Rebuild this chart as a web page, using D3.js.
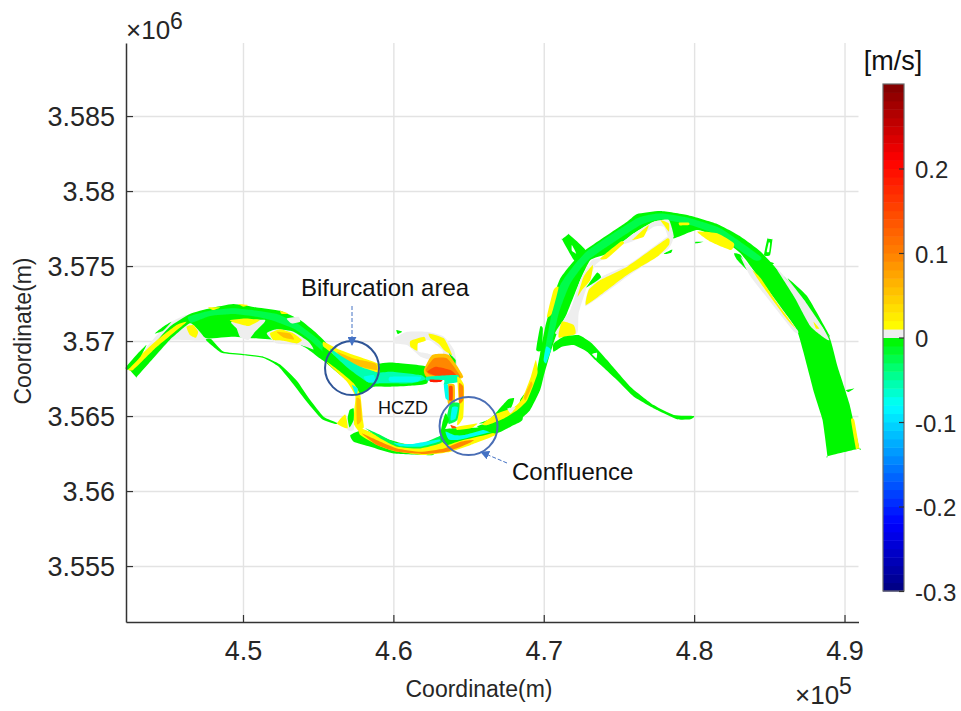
<!DOCTYPE html>
<html>
<head>
<meta charset="utf-8">
<script src="https://cdnjs.cloudflare.com/ajax/libs/d3/7.8.5/d3.min.js"></script>
<style>
  html, body { margin: 0; background: #fff; }
  text { font-family: "Liberation Sans", Arial, sans-serif; }
</style>
</head>
<body>
<div id="chart"></div>
<script>
// tick values, easting and northing in km (labels are shown with the x10^5 / x10^6 multipliers)
const xTicks = [450, 460, 470, 480, 490];
const yTicks = [3555, 3560, 3565, 3570, 3575, 3580, 3585];
const barTicks = [-0.3, -0.2, -0.1, 0, 0.1, 0.2];

// colour map of the velocity bar
const colorStops = [-0.3, -0.22, -0.08, -0.04, -0.005, 0.012, 0.1, 0.21, 0.3];
const colorValues = ["#00007f", "#0000ff", "#00ffff", "#00ff80", "#00f806", "#ffff00", "#ff8000", "#ff0000", "#7f0000"];

// velocity classes, m/s
const GREY = 0.005, GREEN = -0.005, SPRING = -0.025, AQUA = -0.06, CYAN = -0.08, YELLOW = 0.015, AMBER = 0.05, ORANGE = 0.09, HOT = 0.14, RED = 0.18, HOLE = null;

// river patches, [easting km, northing km]
const westMain = [[442.47,3568.07],[442.47,3568.07],[444.02,3569.73],[445.13,3570.96],[446.47,3571.8],[447.8,3572.18],[449.36,3572.47],[450.91,3572.24],[452.47,3572.02],[453.8,3571.4],[454.91,3570.51],[455.58,3569.84],[456.24,3569.07],[457.13,3568.4],[458.24,3567.58],[457.91,3567.07],[457.13,3567.29],[456.24,3568.07],[455.13,3568.84],[454.24,3569.51],[453.36,3569.96],[452.24,3570.07],[450.69,3570.18],[449.36,3570.29],[447.58,3570.18],[447.13,3570.62],[446.47,3571.18],[445.13,3570.07],[444.02,3568.84],[442.91,3567.58],[442.91,3567.58]];
const westGrey = [[443.47,3569.4],[444.91,3571.07],[446.24,3571.73],[446.91,3571.18],[447.62,3570.07],[446.02,3570.07],[445.13,3570.02],[444.02,3568.84]];
const westYellow = [[442.36,3568.24],[444.02,3569.84],[445.58,3571.07],[446.24,3571.29],[446.02,3571.07],[444.24,3569.58],[442.69,3568.07]];
const westThin = [[442.2,3568.24],[442.91,3569.07],[443.58,3569.73],[443.18,3568.96],[442.36,3568.11]];
const westThin2 = [[444.13,3570.51],[444.69,3570.96],[445.24,3571.29],[444.69,3570.69]];
const westBlob = [[446.24,3570.96],[446.69,3571.07],[447.02,3570.62],[446.87,3570.22],[446.47,3570.4]];
const westCentreGrey = [[449.24,3571.29],[451.47,3571.4],[450.8,3570.62],[450.36,3570.07],[449.8,3570.29],[449.58,3570.84]];
const westCentreYellow = [[449.13,3571.4],[450.13,3571.51],[451.13,3571.4],[450.36,3571],[449.58,3571.18]];
const westSpotGrey = [[451.58,3570.51],[452.24,3570.78],[453.36,3570.62],[454.36,3569.96],[454.69,3569.44],[453.8,3569.73],[452.24,3569.84]];
const westSpotYellow = [[451.8,3570.51],[452.47,3570.78],[453.36,3570.51],[453.91,3570.07],[453.58,3569.84],[452.69,3570.02],[452.02,3570.07]];
const westSpotOrange = [[452.24,3570.62],[453.13,3570.51],[453.4,3570.11],[452.69,3570.24]];
const westGreyBit = [[452.91,3571.51],[453.69,3571.62],[453.8,3571.29],[453.24,3571.18]];
const westTopA = [[452.47,3572.02],[453.02,3571.84],[452.58,3571.8]];
const westTopB = [[447.69,3572.24],[448.47,3572.24],[448.02,3572.07]];
const westTopC = [[449.69,3572.47],[450.36,3572.4],[450.02,3572.29]];
const westSpring = [[446.36,3571.62],[447.8,3572.02],[449.36,3572.18],[450.91,3572.02],[452.24,3571.8],[453.58,3571.18],[454.91,3570.18],[456.02,3569.07],[455.69,3568.96],[454.47,3570.07],[453.36,3570.84],[452.02,3571.36],[450.91,3571.62],[449.36,3571.8],[447.8,3571.67],[446.58,3571.22]];
const thinChannel = [[447.53,3570.07],[447.91,3570.11],[448.69,3569.3],[450.02,3569.14],[451.36,3568.96],[452.47,3568.44],[453.58,3567.36],[454.47,3566.07],[455.36,3564.96],[456.24,3564.56],[456.13,3564.47],[455.24,3564.8],[454.24,3565.95],[453.36,3567.1],[452.36,3568.3],[451.36,3568.87],[450.02,3569.06],[448.58,3569.22]];

const bifGreen = [[459.14,3568.51],[460.03,3568.56],[462.25,3568.29],[462.25,3567.18],[461.14,3567.02],[459.8,3566.96],[458.69,3566.96],[457.8,3566.47],[457.36,3566.96],[456.47,3567.73],[455.36,3568.73],[455.36,3569.62],[457.14,3568.4]];
const bifYellow = [[455.36,3569.96],[456.47,3569.4],[457.36,3569.07],[458.69,3568.62],[459.07,3568.4],[459.07,3567.89],[458.24,3568.07],[457.14,3568.4],[456.25,3568.96],[455.36,3569.62]];
const bifOrange = [[456.25,3569.29],[457.36,3568.84],[458.8,3568.51],[458.91,3568.07],[457.8,3568.29],[456.8,3568.73]];
const bifAqua = [[455.8,3569.51],[456.69,3568.91],[457.8,3568.29],[459.03,3567.84],[459.03,3567.18],[458.25,3567.29],[457.14,3568.07],[456.03,3569.07]];
const bifChannel = [[458.14,3567.73],[459.8,3567.96],[461.8,3567.73],[462.14,3567.44],[461.14,3567.18],[459.8,3567.18],[458.36,3567.22]];
const bifCoreA = [[458.03,3567.62],[458.69,3567.73],[458.8,3567.29],[458.25,3567.29]];
const bifCoreB = [[459.8,3567.62],[461.8,3567.62],[461.58,3567.29],[459.8,3567.29]];
const armYellow = [[455.58,3568.62],[456.47,3567.96],[457.36,3567.18],[457.8,3566.4],[457.98,3564.73],[458.03,3564.24],[457.69,3564.02],[457.36,3564.51],[457.4,3565.4],[457.47,3566.33],[456.91,3567.29],[455.8,3568.33]];
const armOrange = [[457.54,3566.18],[457.8,3566.07],[457.89,3564.73],[457.58,3564.47]];
const armGreen = [[457.09,3565.4],[457.36,3565.51],[457.36,3564.73],[457.09,3564.24],[456.96,3564.84]];
const armGrey = [[456.96,3564.96],[457.36,3564.73],[457.36,3564.07],[456.96,3564.07]];
const triYellow = [[456.25,3564.51],[456.8,3565.11],[456.96,3564.18]];
const armCyan = [[457.25,3567.07],[457.63,3566.84],[457.54,3566.33]];

const southGreen = [[457.14,3563.73],[458.03,3564.07],[459.8,3563.4],[461.8,3562.84],[462.69,3562.4],[460.03,3562.51],[458.47,3562.96],[457.36,3563.29]];
const southYellow = [[457.69,3564.24],[458.91,3563.73],[460.03,3563.22],[461.8,3563.13],[463.25,3563.51],[464.25,3563.62],[465.14,3563.73],[466.8,3564.18],[466.8,3563.73],[465.14,3563.07],[463.8,3562.62],[462.03,3562.4],[460.03,3562.67],[458.91,3563.07],[457.8,3563.73]];
const southOrange = [[457.91,3563.84],[459.14,3563.29],[460.25,3562.84],[461.8,3562.62],[463.36,3562.84],[464.47,3563.29],[465.36,3563.4],[464.91,3563.13],[463.58,3562.62],[462.03,3562.47],[460.25,3562.62],[458.91,3563.07]];
const southSpring = [[458.14,3564.18],[459.14,3563.73],[460.25,3563.18],[461.8,3563.13],[463.25,3563.73],[463.8,3563.73],[463.14,3563.18],[461.8,3562.84],[460.25,3562.96],[459.14,3563.51]];
const southCyan = [[460.03,3563.22],[461.14,3563.13],[463.03,3563.44],[463.03,3563.29],[461.8,3562.96],[460.47,3562.99]];
const confGreen = [[463.25,3564.07],[464.03,3564.18],[465.58,3564.24],[466.87,3564.47],[466.91,3563.96],[464.47,3563.36],[463.58,3563.07],[463.14,3563.4]];
const confCyan = [[463.47,3563.96],[464.03,3563.73],[464.69,3563.73],[466.8,3564.29],[466.8,3564.02],[464.47,3563.44],[463.69,3563.44]];
const confOrange = [[463.8,3564.4],[464.25,3564.24],[463.91,3564.18]];
const confYellow = [[464.25,3564.29],[465.58,3564.51],[465.14,3564.18],[464.25,3564.07]];

const lobeGrey = [[460.03,3570.18],[460.91,3570.62],[462.25,3570.62],[463.36,3570.29],[464.03,3569.4],[464.25,3568.07],[462.91,3568.62],[461.8,3568.96],[460.91,3569.73],[460.03,3569.84]];
const lobeHole = [[461.58,3569.84],[462.36,3570.07],[463.25,3569.4],[463.25,3568.84],[462.25,3569.18],[461.69,3569.29]];
const lobeYellowA = [[461.14,3570.02],[462.03,3570.29],[462.14,3570.02],[461.63,3569.84],[461.58,3569.36],[461.14,3569.62]];
const lobeYellowB = [[462.36,3570.51],[463.36,3570.18],[463.91,3569.07],[463.36,3569.4],[463.03,3569.8],[462.47,3570.18]];
const lobeGreenA = [[460.2,3570.73],[460.58,3570.62],[460.29,3570.47]];
const lobeGreenB = [[463.69,3569.18],[464.14,3568.73],[464.07,3568.33]];
const hotYellow = [[462.03,3568.07],[462.58,3569.07],[463.69,3569.07],[464.65,3567.62],[463.8,3567.4],[462.25,3567.58]];
const hotOrange = [[462.14,3568.07],[462.69,3568.84],[463.58,3568.84],[464.47,3567.62],[463.8,3567.51],[462.47,3567.73]];
const hotRed = [[462.25,3567.96],[462.8,3568.29],[463.8,3568.07],[464.25,3567.62],[463.36,3567.62],[462.69,3567.73]];
const eastYellow = [[464.25,3567.62],[464.69,3567.07],[464.65,3564.96],[464.25,3564.4],[464.36,3565.84]];
const eastOrange = [[464.36,3567.18],[464.65,3566.96],[464.65,3566.07],[464.38,3565.84]];
const midYellow = [[463.58,3567.07],[464.07,3567.07],[464.07,3565.84],[463.63,3565.84]];
const midRed = [[463.69,3566.96],[463.94,3566.96],[463.94,3566.07],[463.69,3566.07]];
const midCyan = [[463.36,3567.07],[463.63,3567.07],[463.69,3566.07],[463.47,3566.18]];
const islandGreen = [[463.8,3565.84],[464.4,3565.84],[464.25,3564.73],[463.69,3564.47],[463.58,3565.07]];
const islandCyan = [[463.91,3565.58],[464.29,3565.58],[464.14,3564.84],[463.8,3564.73]];
const linkCyan = [[462.25,3567.62],[464.25,3567.73],[464.36,3567.29],[463.8,3567.18],[463.36,3567.07],[463.36,3567.4],[462.25,3567.36]];
const linkRed = [[462.43,3567.44],[463.25,3567.4],[463.14,3567.27],[462.47,3567.27]];
const confWest = [[463.47,3565.18],[463.69,3564.73],[463.36,3563.96],[463.14,3563.84],[463.25,3564.51]];

const neMain = [[468.43,3564.84],[469.1,3565.4],[469.76,3566.73],[469.99,3567.62],[470.43,3569.18],[470.87,3570.51],[471.54,3571.84],[472.43,3574.07],[473.1,3575.4],[474.21,3575.84],[475.99,3577.18],[477.32,3577.96],[477.99,3577.73],[478.43,3577.29],[478.65,3576.84],[480.21,3577.4],[481.76,3576.84],[483.1,3575.84],[484.43,3574.07],[485.54,3572.51],[486.87,3570.62],[487.99,3566.51],[488.54,3564.73],[488.87,3562.33],[488.87,3562.33],[490.99,3562.84],[490.99,3562.84],[490.32,3565.84],[489.54,3568.29],[488.99,3570.29],[487.54,3572.73],[485.99,3574.29],[484.43,3575.96],[483.1,3576.96],[481.54,3577.8],[479.54,3578.4],[477.76,3578.67],[476.21,3578.47],[475.54,3577.96],[472.76,3576.07],[471.87,3575.18],[471.1,3574.18],[470.65,3572.96],[470.1,3570.96],[469.76,3569.18],[469.54,3568.07],[469.1,3566.96],[468.43,3566.07]];
const neSpring = [[470.03,3569.07],[470.76,3572.96],[471.32,3574.11],[472.76,3575.89],[476.21,3578.18],[477.76,3578.51],[479.54,3578.24],[481.76,3577.51],[484.43,3575.62],[483.99,3575.4],[481.54,3577.07],[479.54,3577.8],[477.76,3578.11],[476.43,3577.73],[473,3575.44],[471.76,3573.84],[470.99,3571.84],[470.39,3569.18]];
const neCyanTip = [[470.16,3569.62],[470.47,3569.4],[470.16,3568.51],[469.99,3568.73]];
const eastLower = [[465.58,3564.29],[466.8,3564.73],[467.8,3565.4],[468.58,3565.84],[468.58,3564.73],[467.8,3564.29],[466.8,3563.84]];
const eastPatch = [[465.69,3564.51],[466.47,3564.84],[467.58,3566.07],[468.03,3566.18],[467.8,3565.51],[466.69,3564.62]];
const eastStrip = [[465.91,3564.47],[466.91,3565.18],[468.03,3565.58],[468.58,3566.18],[469.14,3567.62],[469.47,3568.73],[469.58,3567.84],[468.91,3566.07],[468.25,3565.4],[467.36,3564.84],[466.25,3564.4]];
const eastStripOrange = [[468.69,3566.29],[469.14,3567.29],[469.25,3567.07],[468.8,3566.07]];
const eastGrey = [[467.58,3565.51],[468.14,3565.58],[467.8,3565.18]];
const innerGrey = [[470.76,3570.51],[471.76,3572.07],[472.43,3574.07],[473.21,3575.4],[473.99,3575.51],[473.43,3575.07],[472.87,3573.62],[472.32,3571.84],[472.21,3570.51]];
const innerBlob = [[470.99,3570.24],[471.21,3571.29],[471.99,3571.07],[472.1,3570.47]];
const innerYellow = [[472.25,3572.96],[472.65,3574.29],[473.27,3575.07],[473.1,3574.07],[472.54,3573.4]];
const outerStrip = [[470.21,3571.62],[470.65,3573.4],[470.99,3573.58],[470.54,3571.84]];
const outerGreen = [[469.76,3570.96],[469.94,3570.84],[469.87,3569.4],[469.5,3569.4]];
const barGrey = [[472.76,3572.33],[472.99,3573.51],[473.87,3574.29],[475.76,3575.18],[478.21,3576.96],[478.61,3576.84],[478.21,3576.07],[475.54,3574.29],[474.21,3573.29]];
const barYellow = [[472.81,3572.4],[472.99,3573.4],[473.76,3574.07],[475.54,3574.96],[478.21,3576.84],[478.32,3576.4],[477.54,3575.62],[475.54,3574.4],[474.21,3573.4]];
const barGreenA = [[472.83,3573.58],[473.54,3574.56],[473.81,3574.24],[473.1,3573.73]];
const barGreenB = [[477.99,3575.84],[478.54,3576.11],[478.47,3575.89],[478.1,3575.8]];
const topGrey = [[475.1,3576.4],[475.99,3577.18],[477.32,3577.96],[478.32,3578.07],[478.65,3576.96],[478.32,3576.84],[477.99,3577.62],[477.32,3577.62],[476.1,3576.73]];
const topYellowA = [[473.76,3575.51],[475.1,3576.62],[475.32,3576.51],[474.21,3575.51]];
const topYellowB = [[475.99,3576.84],[476.98,3577.73],[476.65,3576.96],[475.87,3576.73]];
const topYellowC = [[477.76,3578.07],[478.32,3577.84],[478.32,3577.29],[477.99,3577.73]];
const topSpot = [[478.99,3577.89],[479.65,3577.89],[479.65,3577.73],[479.05,3577.71]];
const neYellowA = [[480.21,3577.29],[481.54,3577.18],[482.65,3576.51],[482.43,3576.07],[481.1,3576.62]];
const neTick = [[480.1,3576.62],[480.65,3576.62],[480.1,3576.51]];
const neGreenB = [[482.65,3575.84],[483.1,3575.73],[483.54,3574.73],[482.87,3575.4]];
const neGreyLower = [[483.1,3575.62],[484.43,3574.07],[486.87,3570.73],[486.65,3570.62],[485.32,3572.29],[483.76,3574.29]];
const neYellowLower = [[483.87,3574.73],[484.43,3574.18],[485.54,3572.51],[486.76,3570.84],[486.21,3571.4],[484.43,3573.84]];
const neGreyUpper = [[485.32,3575.07],[486.21,3574.07],[487.54,3572.73],[488.99,3570.07],[487.76,3570.96],[486.65,3572.96]];
const neEdge = [[486.21,3574.18],[487.54,3572.96],[488.99,3570.4],[488.83,3570.51],[487.32,3572.73]];
const neEdgeYellow = [[487.94,3571.29],[488.32,3570.84],[488.1,3570.84]];
const neStub = [[484.87,3576.84],[484.87,3576.84],[485.21,3576.78],[485.21,3576.78],[485.05,3575.73],[484.65,3575.73]];
const neStubHole = [[484.96,3576.56],[485.05,3576.51],[484.99,3575.96],[484.83,3575.96]];
const neStub2 = [[484.54,3575.4],[485.32,3575.18],[484.87,3575.02]];
const neTipYellow = [[490.43,3564.73],[490.65,3564.73],[490.99,3562.84],[490.99,3562.84],[490.76,3562.8],[490.76,3562.8]];
const neStub3 = [[490.1,3566.73],[490.65,3566.84],[490.25,3566.6]];
const tribStub = [[471.21,3576.78],[471.21,3576.78],[471.65,3577.13],[471.65,3577.13],[472.76,3576.07],[472.1,3575.29]];
const tribHole = [[471.87,3576.4],[472.16,3575.84],[471.87,3576.02]];
const seBranch = [[470.65,3569.84],[471.32,3570.29],[472.32,3570.4],[473.21,3569.84],[474.21,3568.73],[475.76,3566.96],[477.32,3565.73],[478.65,3565.07],[479.99,3565],[479.76,3564.78],[478.87,3564.78],[477.54,3565.4],[475.99,3566.29],[474.87,3567.4],[473.43,3568.73],[472.87,3569.29],[471.98,3569.73],[471.21,3569.62],[470.65,3569.29]];
const seNotch = [[473.21,3569.13],[473.54,3569.22],[473.5,3568.84]];

// paint order, back to front: [patch, velocity]
const layers = [
  [westGrey, GREY], [westMain, GREEN], [westSpring, SPRING], [westYellow, YELLOW], [westThin, GREEN], [westThin2, GREEN], [westBlob, YELLOW],
  [westCentreGrey, GREY], [westCentreYellow, YELLOW], [westSpotGrey, GREY], [westSpotYellow, YELLOW], [westSpotOrange, AMBER], [westGreyBit, GREY],
  [westTopA, YELLOW], [westTopB, YELLOW], [westTopC, YELLOW], [thinChannel, GREEN],
  [bifGreen, GREEN], [bifYellow, YELLOW], [bifOrange, AMBER], [bifAqua, AQUA], [bifChannel, AQUA], [bifCoreA, CYAN], [bifCoreB, CYAN], [armYellow, YELLOW], [armOrange, AMBER], [armGrey, GREY], [armGreen, GREEN], [triYellow, YELLOW], [armCyan, CYAN],
  [southGreen, GREEN], [southYellow, YELLOW], [southOrange, ORANGE], [southSpring, SPRING], [southCyan, CYAN],
  [lobeGrey, GREY], [lobeHole, HOLE], [lobeYellowA, YELLOW], [lobeYellowB, YELLOW], [lobeGreenA, GREEN], [lobeGreenB, GREEN],
  [hotYellow, AMBER], [hotOrange, ORANGE], [hotRed, HOT], [linkCyan, AQUA], [linkRed, RED],
  [eastYellow, YELLOW], [eastOrange, ORANGE], [midYellow, AMBER], [midRed, HOT], [midCyan, CYAN], [islandGreen, SPRING], [islandCyan, CYAN], [confWest, GREEN],
  [confGreen, GREEN], [confCyan, CYAN], [confOrange, HOT], [confYellow, YELLOW],
  [neMain, GREEN], [neSpring, SPRING], [neCyanTip, CYAN], [eastLower, GREEN], [eastPatch, GREEN], [eastStrip, YELLOW], [eastStripOrange, AMBER], [eastGrey, GREY],
  [innerGrey, GREY], [innerBlob, YELLOW], [innerYellow, YELLOW], [outerStrip, YELLOW], [outerGreen, GREEN],
  [barGrey, GREY], [barYellow, YELLOW], [barGreenA, GREEN], [barGreenB, GREEN], [topGrey, GREY], [topYellowA, YELLOW], [topYellowB, YELLOW], [topYellowC, YELLOW], [topSpot, YELLOW],
  [neYellowA, YELLOW], [neTick, GREEN], [neGreenB, GREEN], [neGreyLower, GREY], [neYellowLower, YELLOW], [neGreyUpper, GREY], [neEdge, GREEN], [neEdgeYellow, YELLOW],
  [neStub, GREEN], [neStubHole, HOLE], [neStub2, GREEN], [neTipYellow, YELLOW], [neStub3, GREEN], [tribStub, GREEN], [tribHole, HOLE], [seBranch, GREEN], [seNotch, HOLE],
];

// annotation circles [easting km, northing km]
const bifurcationMark = [457.25, 3568.2];
const confluenceMark = [465, 3564.33];

const width = 961, height = 711;
const plot = { left: 126, right: 858.5, top: 43, bottom: 622 };
const bar = { left: 883, right: 904, top: 84, bottom: 591 };

const svg = d3.select("#chart").append("svg")
  .attr("width", width).attr("height", height)
  .attr("viewBox", [0, 0, width, height]);

const xScale = d3.scaleLinear().domain([442.22, 490.93]).range([plot.left, plot.right]);
const yScale = d3.scaleLinear().domain([3551.27, 3589.87]).range([plot.bottom, plot.top]);
const barScale = d3.scaleLinear().domain([-0.3, 0.3]).range([bar.bottom, bar.top]);
const colorMap = d3.scaleLinear().domain(colorStops).range(colorValues).clamp(true);

// the bar has one step per 0.01 m/s and the step above zero is grey
function velocityColor(v) {
  if (v === null) return "#fff";
  const low = Math.floor(v * 100) / 100;
  if (low === 0) return "#eeeeee";
  return colorMap(low + 0.005);
}

// soft edges, the river was a resampled raster
const defs = svg.append("defs");
defs.append("filter").attr("id", "soft")
  .attr("x", "-5%").attr("y", "-5%").attr("width", "110%").attr("height", "110%")
  .append("feGaussianBlur").attr("stdDeviation", 0.7);
const arrowColor = "#4472c4";
defs.append("marker").attr("id", "head")
  .attr("viewBox", "0 0 10 10").attr("refX", 9).attr("refY", 5)
  .attr("markerWidth", 9).attr("markerHeight", 9).attr("markerUnits", "userSpaceOnUse").attr("orient", "auto")
  .append("path").attr("d", "M0,0L10,5L0,10Z").attr("fill", arrowColor);

// grid
const gridColor = "#e3e3e3";
svg.append("g")
  .attr("transform", `translate(0,${plot.bottom})`)
  .call(d3.axisBottom(xScale).tickValues(xTicks).tickSize(-(plot.bottom - plot.top)).tickFormat(""))
  .call((g) => g.select(".domain").remove())
  .call((g) => g.selectAll("line").attr("stroke", gridColor).attr("stroke-width", 1.4));
svg.append("g")
  .attr("transform", `translate(${plot.left},0)`)
  .call(d3.axisLeft(yScale).tickValues(yTicks).tickSize(-(plot.right - plot.left)).tickFormat(""))
  .call((g) => g.select(".domain").remove())
  .call((g) => g.selectAll("line").attr("stroke", gridColor).attr("stroke-width", 1.4));

// river
const line = d3.line()
  .x((d) => xScale(d[0]))
  .y((d) => yScale(d[1]))
  .curve(d3.curveCardinalClosed.tension(0.5));
svg.append("g").attr("filter", "url(#soft)")
  .selectAll("path")
  .data(layers)
  .join("path")
  .attr("d", (d) => line(d[0]))
  .attr("fill", (d) => velocityColor(d[1]));

// axes
const axisColor = "#333";
const tickFont = 27;
svg.append("g")
  .attr("transform", `translate(0,${plot.bottom})`)
  .call(d3.axisBottom(xScale).tickValues(xTicks).tickSize(-7).tickPadding(19).tickSizeOuter(0).tickFormat((d) => d / 100))
  .call((g) => g.select(".domain").attr("stroke", axisColor).attr("stroke-width", 1.5))
  .call((g) => g.selectAll("line").attr("stroke", axisColor).attr("stroke-width", 1.2))
  .call((g) => g.selectAll("text").attr("fill", "#262626").attr("font-size", tickFont).attr("font-family", null));
svg.append("g")
  .attr("transform", `translate(${plot.left},0)`)
  .call(d3.axisLeft(yScale).tickValues(yTicks).tickSize(-7).tickPadding(11).tickSizeOuter(0).tickFormat((d) => d / 1000))
  .call((g) => g.select(".domain").attr("stroke", axisColor).attr("stroke-width", 1.5))
  .call((g) => g.selectAll("line").attr("stroke", axisColor).attr("stroke-width", 1.2))
  .call((g) => g.selectAll("text").attr("fill", "#262626").attr("font-size", tickFont).attr("font-family", null).attr("dy", "0.36em"));

svg.append("text").attr("x", 479).attr("y", 697).attr("text-anchor", "middle")
  .attr("font-size", 23).attr("fill", "#262626").text("Coordinate(m)");
svg.append("text").attr("transform", "translate(31,331) rotate(-90)").attr("text-anchor", "middle")
  .attr("font-size", 23).attr("fill", "#262626").text("Coordinate(m)");

function multiplier(px, py, exponent) {
  const t = svg.append("text").attr("x", px).attr("y", py).attr("font-size", 26).attr("fill", "#262626");
  t.append("tspan").text("\u00d710");
  t.append("tspan").attr("dy", -10).attr("font-size", 23).text(exponent);
}
multiplier(126, 39, "6");
multiplier(795, 704, "5");

// colour bar, one step per 0.01 m/s
const barLevels = d3.range(-30, 30).map((i) => i / 100);
svg.append("g").selectAll("rect")
  .data(barLevels)
  .join("rect")
  .attr("x", bar.left)
  .attr("width", bar.right - bar.left)
  .attr("y", (d) => barScale(d + 0.01))
  .attr("height", (d) => barScale(d) - barScale(d + 0.01) + 0.5)
  .attr("fill", (d) => velocityColor(d + 0.005));
svg.append("rect")
  .attr("x", bar.left).attr("y", bar.top)
  .attr("width", bar.right - bar.left).attr("height", bar.bottom - bar.top)
  .attr("fill", "none").attr("stroke", "#6a6a6a").attr("stroke-width", 1.2);
svg.append("g")
  .attr("transform", `translate(${bar.right},0)`)
  .call(d3.axisRight(barScale).tickValues(barTicks).tickSize(-5).tickPadding(11).tickSizeOuter(0).tickFormat((d) => d))
  .call((g) => g.select(".domain").remove())
  .call((g) => g.selectAll("line").attr("stroke", "#333").attr("stroke-width", 1.2))
  .call((g) => g.selectAll("text").attr("fill", "#262626").attr("font-size", 24).attr("font-family", null).attr("dy", "0.39em"));
svg.append("text").attr("x", 893).attr("y", 70).attr("text-anchor", "middle")
  .attr("font-size", 27).attr("fill", "#111").text("[m/s]");

// annotations
const circleColor = "#2f5597";
svg.append("circle")
  .attr("cx", xScale(bifurcationMark[0])).attr("cy", yScale(bifurcationMark[1])).attr("r", 27)
  .attr("fill", "none").attr("stroke", circleColor).attr("stroke-width", 2);
svg.append("circle")
  .attr("cx", xScale(confluenceMark[0])).attr("cy", yScale(confluenceMark[1])).attr("r", 29)
  .attr("fill", "none").attr("stroke", "#4a6eb5").attr("stroke-width", 2);
svg.append("line")
  .attr("x1", 352).attr("y1", 306).attr("x2", 352).attr("y2", 345)
  .attr("stroke", arrowColor).attr("stroke-width", 1).attr("stroke-dasharray", "4 2").attr("marker-end", "url(#head)");
svg.append("line")
  .attr("x1", 507).attr("y1", 463).attr("x2", 481).attr("y2", 452)
  .attr("stroke", arrowColor).attr("stroke-width", 1).attr("stroke-dasharray", "4 2").attr("marker-end", "url(#head)");

svg.append("text").attr("x", 301).attr("y", 296).attr("font-size", 24).attr("fill", "#111").text("Bifurcation area");
svg.append("text").attr("x", 378).attr("y", 414).attr("font-size", 18).attr("fill", "#111").text("HCZD");
svg.append("text").attr("x", 512).attr("y", 480).attr("font-size", 24).attr("fill", "#111").text("Confluence");
</script>
</body>
</html>
